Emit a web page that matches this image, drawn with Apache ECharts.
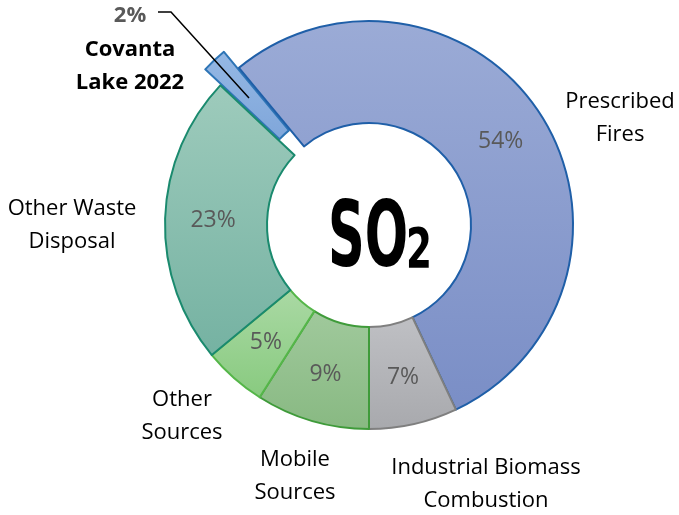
<!DOCTYPE html>
<html>
<head>
<meta charset="utf-8">
<script src="https://cdn.jsdelivr.net/npm/echarts@6/dist/echarts.min.js"></script>
<style>
  html, body { margin: 0; padding: 0; background: #fff; }
  #main { width: 679px; height: 515px; }
</style>
</head>
<body>
<div id="main"></div>
<script>
// slices, clockwise from the exploded one
const sources = ["Covanta Lake 2022", "Prescribed Fires", "Industrial Biomass Combustion", "Mobile Sources", "Other Sources", "Other Waste Disposal"]
const sharePct = [2, 54, 7, 9, 5, 23]
const labelLines = [["Covanta", "Lake 2022"], ["Prescribed", "Fires"], ["Industrial Biomass", "Combustion"], ["Mobile", "Sources"], ["Other", "Sources"], ["Other Waste", "Disposal"]]

// look
const fills = [
  ["#95b8e4", "#7fa6da"],
  ["#9babd6", "#7a8ec6"],
  ["#bfc0c4", "#a8a9ad"],
  ["#a0c99c", "#88b982"],
  ["#aad9a4", "#88ca7f"],
  ["#9ecbbc", "#75b2a2"]
]
const borders = ["#2e75b6", "#1f5fa8", "#7f7f7f", "#3f9b3a", "#55b649", "#1a8a6e"]
// where each outside label sits (center of text block)
const labelSpots = [[130, 49], [620, 118], [486, 484], [295, 476], [182, 416], [72, 225]]
const covantaLeader = [[249, 98], [171, 12], [158, 12]]

const font = "'Open Sans', 'Noto Sans', sans-serif"
const center = [369, 225]
const radius = [102, 204]
const startAngle = 90 + 46.8

const chart = echarts.init(document.getElementById("main"))

function grad(c) {
  return new echarts.graphic.LinearGradient(0, 0, 0, 1, [
    { offset: 0, color: c[0] },
    { offset: 1, color: c[1] }
  ])
}

const slices = sources.map((name, i) => {
  const style = { color: grad(fills[i]), borderColor: borders[i], borderWidth: 2 }
  return {
    name: name,
    value: sharePct[i],
    selected: i === 0,
    itemStyle: style,
    select: { itemStyle: style }
  }
})

const ghost = sources.map((name, i) => ({ name: name, value: sharePct[i] }))

chart.setOption({
  animation: false,
  graphic: [
    {
      type: "text",
      x: 328,
      y: 243,
      scaleX: 0.63,
      style: {
        text: "SO",
        font: "bold 90px 'DejaVu Sans Condensed', 'DejaVu Sans'",
        fill: "#000",
        textVerticalAlign: "middle"
      }
    },
    {
      type: "text",
      x: 406,
      y: 252,
      scaleX: 0.74,
      style: {
        text: "2",
        font: "bold 56px 'DejaVu Sans Condensed', 'DejaVu Sans'",
        fill: "#000",
        textVerticalAlign: "middle"
      }
    },
    {
      type: "polyline",
      z: 100,
      shape: { points: covantaLeader },
      style: { stroke: "#000", lineWidth: 1.5, fill: null }
    }
  ],
  series: [
    {
      type: "pie",
      center: center,
      radius: radius,
      startAngle: startAngle,
      clockwise: true,
      selectedMode: "single",
      selectedOffset: 22,
      avoidLabelOverlap: false,
      emphasis: { disabled: true },
      label: {
        position: "inside",
        formatter: p => (p.dataIndex === 0 ? "" : p.value + "%"),
        color: "#595959",
        fontSize: 23,
        fontFamily: font
      },
      labelLine: { show: false },
      data: slices
    },
    {
      type: "pie",
      silent: true,
      center: center,
      radius: radius,
      startAngle: startAngle,
      clockwise: true,
      avoidLabelOverlap: false,
      itemStyle: { color: "transparent", borderWidth: 0 },
      emphasis: { disabled: true },
      label: {
        position: "outside",
        color: "#000",
        fontSize: 22,
        lineHeight: 33,
        fontFamily: font,
        formatter: p => {
          const l = labelLines[p.dataIndex]
          if (p.dataIndex === 0) {
            return "{p|" + p.value + "%}\n{b|" + l[0] + "}\n{b|" + l[1] + "}"
          }
          return l.join("\n")
        },
        rich: {
          p: { color: "#595959", fontWeight: "bold", fontSize: 22, lineHeight: 34, fontFamily: font },
          b: { color: "#000", fontWeight: "bold", fontSize: 22, lineHeight: 33, fontFamily: font }
        }
      },
      labelLine: { show: false },
      labelLayout: params => {
        const spot = labelSpots[params.dataIndex]
        return { x: spot[0], y: spot[1], align: "center", verticalAlign: "middle" }
      },
      data: ghost
    }
  ]
})
</script>
</body>
</html>
